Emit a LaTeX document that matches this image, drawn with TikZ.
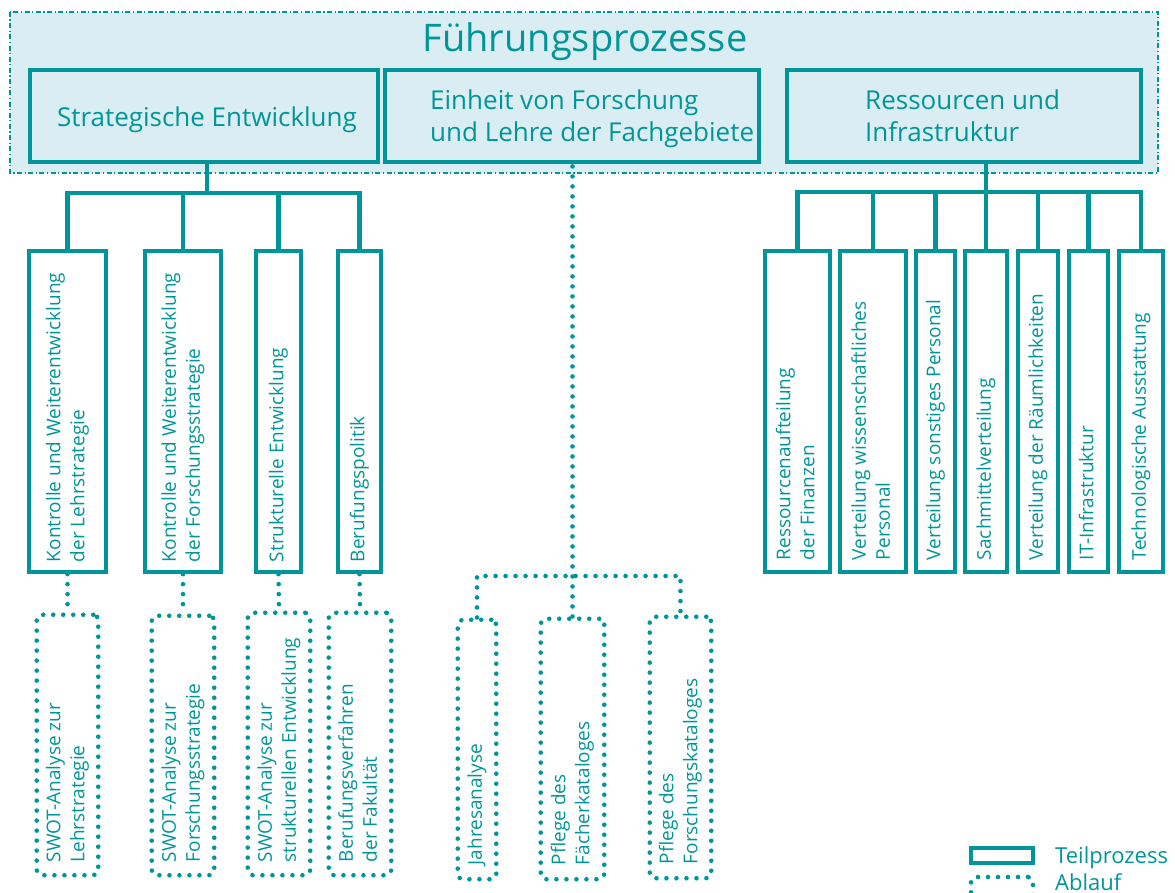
\documentclass[tikz,border=0pt]{standalone}
\usepackage{fontspec}
\setmainfont{Open Sans}
\usepackage{graphicx}
\definecolor{tealc}{RGB}{0,150,153}
\definecolor{panelfill}{RGB}{218,237,242}

% vertical label: box length, padding from the bottom, lines
\newcommand{\uptext}[3]{\rotatebox{90}{\makebox[#1][l]{\hspace{#2}\begin{tabular}{@{}l@{}}#3\end{tabular}}}}

\tikzset{
  frame/.style={fill=panelfill, draw=tealc, line width=1.2pt,
    dash pattern=on 5pt off 2.5pt on 1.2pt off 2.5pt},
  solidline/.style={draw=tealc, line width=4.3pt},
  topbox/.style={solidline, fill=panelfill, minimum height=92pt, inner sep=0pt},
  toptext/.style={text=tealc, inner sep=0pt, font=\fontsize{26}{32}\selectfont},
  titletext/.style={text=tealc, inner sep=0pt, font=\fontsize{38}{44}\selectfont},
  subbox/.style={solidline, fill=white, inner sep=0pt, text=tealc,
    font=\fontsize{19}{24}\selectfont, minimum width=#1},
  dotline/.style={draw=tealc, line width=4.6pt, line cap=round,
    dash pattern=on 0pt off 10pt},
  flowbox/.style={dotline, rounded corners=5pt, inner sep=0pt, text=tealc,
    font=\fontsize{19}{24}\selectfont, minimum width=#1},
  conn/.style={draw=tealc, line width=4.3pt},
  flow/.style={dotline},
  legtext/.style={text=tealc, inner sep=0pt, font=\fontsize{22}{26}\selectfont},
}

\begin{document}
\begin{tikzpicture}[x=1pt,y=-1pt]
\useasboundingbox (0,0) rectangle (1175,893);
\clip (0,0) rectangle (1175,893);

% process frame
\draw[frame] (10,12) rectangle (1158,173);
\node[titletext, anchor=base] (title) at (585,52) {Führungsprozesse};

% main sub-processes
\node[topbox, minimum width=348pt] (SE) at (204,116) {};
\node[toptext, anchor=base] (SEt) at (207,127) {Strategische Entwicklung};
\node[topbox, minimum width=374pt] (EF) at (572,116) {};
\node[toptext, align=left, anchor=west] (EFt) at (430,119) {Einheit von Forschung\\und Lehre der Fachgebiete};
\node[topbox, minimum width=354pt] (RI) at (964,116) {};
\node[toptext, align=left, anchor=west] (RIt) at (865,116) {Ressourcen und\\Infrastruktur};

% strategic development branch
\node[subbox=76.7pt] (K1) at (67.5,411.5) {\uptext{321pt}{10pt}{Kontrolle und Weiterentwicklung\\der Lehrstrategie}};
\node[subbox=75.7pt] (K2) at (183,411.5) {\uptext{321pt}{10pt}{Kontrolle und Weiterentwicklung\\der Forschungsstrategie}};
\node[subbox=44.7pt] (K3) at (278.5,411.5) {\uptext{321pt}{10pt}{Strukturelle Entwicklung}};
\node[subbox=42.7pt] (K4) at (359.5,411.5) {\uptext{321pt}{10pt}{Berufungspolitik}};

\coordinate (sbar) at (207,193);
\draw[conn] (sbar) -- (sbar |- SE.south);
\draw[conn] (K1.north) |- (sbar) -| (K4.north);
\draw[conn] (K2.north) -- (K2.north |- sbar);
\draw[conn] (K3.north) -- (K3.north |- sbar);

\node[flowbox=61.5pt] (D1) at (67.5,745) {\uptext{260.5pt}{13pt}{SWOT-Analyse zur\\Lehrstrategie}};
\node[flowbox=62.5pt] (D2) at (183,745.5) {\uptext{259.5pt}{13pt}{SWOT-Analyse zur\\Forschungsstrategie}};
\node[flowbox=62.5pt] (D3) at (279,744) {\uptext{262.5pt}{13pt}{SWOT-Analyse zur\\strukturellen Entwicklung}};
\node[flowbox=62.5pt] (D4) at (360,744) {\uptext{262.5pt}{13pt}{Berufungsverfahren\\der Fakultät}};

\draw[flow] (K1.south) -- (D1.north);
\draw[flow] (K2.south) -- (D2.north);
\draw[flow] (K3.south) -- (D3.north);
\draw[flow] (K4.south) -- (D4.north);

% research and teaching branch
\node[flowbox=38.5pt] (M1) at (477,749.5) {\uptext{259.5pt}{14pt}{Jahresanalyse}};
\node[flowbox=63.5pt] (M2) at (572.5,749) {\uptext{260.5pt}{14pt}{Pflege des\\Fächerkataloges}};
\node[flowbox=61.5pt] (M3) at (680.5,747.5) {\uptext{261.5pt}{14pt}{Pflege des\\Forschungskataloges}};

\coordinate (mbar) at (574,576);
\draw[flow] (M2.north) -- (M2.north |- EF.south);
\draw[flow] (M1.north) |- (mbar) -| (M3.north);

% resources branch
\node[subbox=65pt] (R1) at (797.5,411.5) {\uptext{321pt}{12pt}{Ressourcenaufteilung\\der Finanzen}};
\node[subbox=66pt] (R2) at (873,411.5) {\uptext{321pt}{12pt}{Verteilung wissenschaftliches\\Personal}};
\node[subbox=39pt] (R3) at (935.5,411.5) {\uptext{321pt}{12pt}{Verteilung sonstiges Personal}};
\node[subbox=42pt] (R4) at (986,411.5) {\uptext{321pt}{12pt}{Sachmittelverteilung}};
\node[subbox=40pt] (R5) at (1038,411.5) {\uptext{321pt}{12pt}{Verteilung der Räumlichkeiten}};
\node[subbox=39pt] (R6) at (1088.5,411.5) {\uptext{321pt}{12pt}{IT-Infrastruktur}};
\node[subbox=44pt] (R7) at (1141,411.5) {\uptext{321pt}{12pt}{Technologische Ausstattung}};

\coordinate (rbar) at (986,192);
\draw[conn] (R4.north) -- (R4.north |- RI.south);
\draw[conn] (R1.north) |- (rbar) -| (R7.north);
\draw[conn] (R2.north) -- (R2.north |- rbar);
\draw[conn] (R3.north) -- (R3.north |- rbar);
\draw[conn] (R5.north) -- (R5.north |- rbar);
\draw[conn] (R6.north) -- (R6.north |- rbar);

% legend
\node[solidline, minimum width=62pt, minimum height=15pt, inner sep=0pt] (legsolid) at (1002,855.5) {};
\node[dotline, rounded corners=5pt, minimum width=62pt, minimum height=28pt, inner sep=0pt] (legdot) at (1002,891) {};
\node[legtext, anchor=base west] (legA) at (1055,863) {Teilprozess};
\node[legtext, anchor=base west] (legB) at (1055,890) {Ablauf};
\end{tikzpicture}
\end{document}
